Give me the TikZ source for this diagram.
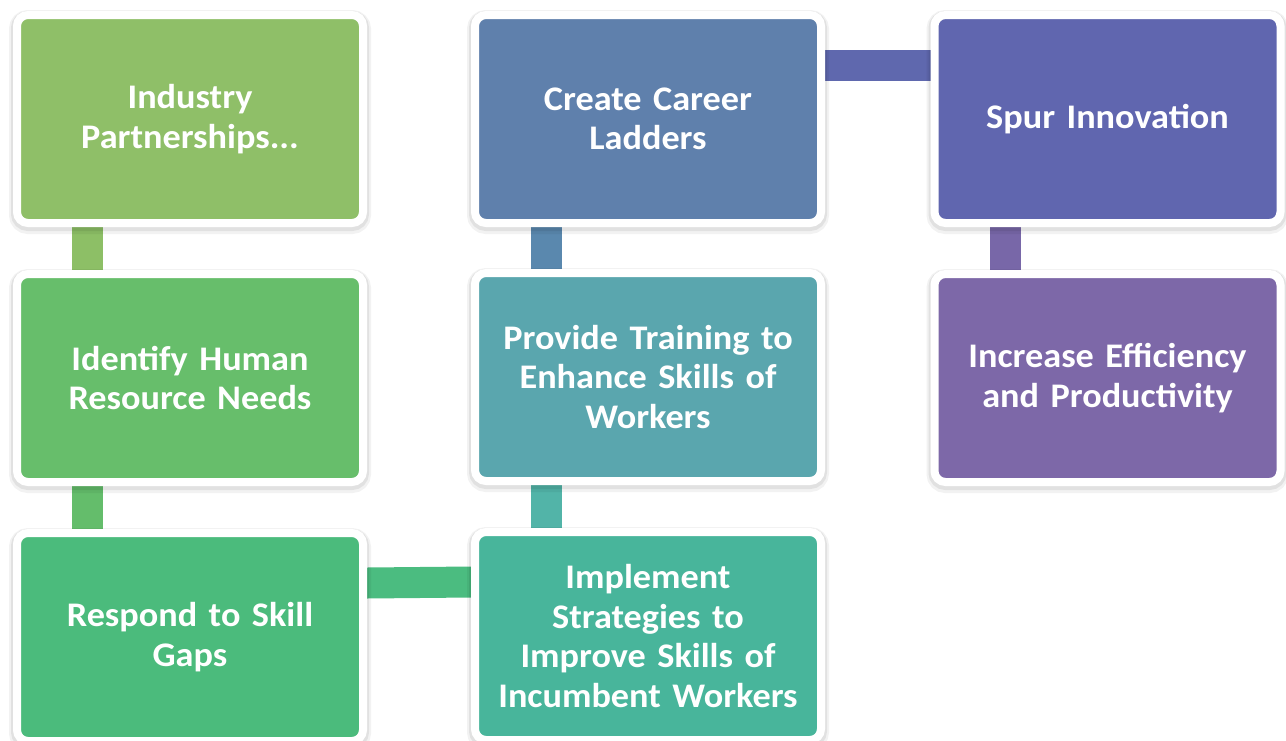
\documentclass[tikz,border=0pt]{standalone}
\usepackage{fontspec}
\setmainfont{Carlito}[FakeStretch=1.05]
\usetikzlibrary{backgrounds}
\newcommand\myboxfont{\fontsize{34.5}{39.5}\selectfont\bfseries\fontdimen2\font=7.5pt\relax}
\definecolor{cA}{HTML}{8FBF68}
\definecolor{cB}{HTML}{67BE6B}
\definecolor{cC}{HTML}{4BBB7C}
\definecolor{cD}{HTML}{48B59B}
\definecolor{cE}{HTML}{5AA6AE}
\definecolor{cF}{HTML}{5F80AC}
\definecolor{cG}{HTML}{6066AF}
\definecolor{cH}{HTML}{7D68A8}
\definecolor{bA}{HTML}{8DBF66}
\definecolor{bB}{HTML}{64BD6B}
\definecolor{bC}{HTML}{4BBC80}
\definecolor{bD}{HTML}{52B4A8}
\definecolor{bE}{HTML}{5A88AE}
\definecolor{bF}{HTML}{5F68AE}
\definecolor{bG}{HTML}{7867A8}
\tikzset{
  box/.style={rectangle, rounded corners=11pt, draw=white, line width=8pt,
    minimum width=346pt, minimum height=208pt, text width=330pt, align=center,
    text=white, font=\myboxfont,
    preaction={draw=black, draw opacity=0.05, line width=16pt, transform canvas={yshift=-3pt}},
    preaction={draw=black, draw opacity=0.07, line width=12pt, transform canvas={yshift=-2pt}}},
  bar/.style={line width=31pt}
}
\begin{document}
\begin{tikzpicture}[x=1pt,y=-1pt]
\useasboundingbox (0,0) rectangle (1286,740);
\node[box, fill=cA] (ind) at (190,119) {Industry\\Partnerships...};
\node[box, fill=cB] (idh) at (190,378) {Identify Human\\Resource Needs};
\node[box, fill=cC] (res) at (190,637) {Respond to Skill\\Gaps};
\node[box, fill=cD] (imp) at (648,636) {Implement\\Strategies to\\Improve Skills of\\Incumbent Workers};
\node[box, fill=cE] (pro) at (648,377) {Provide Training to\\Enhance Skills of\\Workers};
\node[box, fill=cF] (car) at (648,119) {Create Career\\Ladders};
\node[box, fill=cG] (spu) at (1107.5,119) {Spur Innovation};
\node[box, fill=cH] (inc) at (1107.5,378) {Increase Efficiency\\and Productivity};
\begin{pgfonlayer}{background}
\draw[bar, bA] ([xshift=-103pt]ind.south) -- ([xshift=-103pt]idh.north);
\draw[bar, bB] ([xshift=-103pt]idh.south) -- ([xshift=-103pt]res.north);
\draw[bar, bC] ([yshift=54pt]res.east) -- ([yshift=54pt]imp.west);
\draw[bar, bD] ([xshift=-102pt]imp.north) -- ([xshift=-102pt]pro.south);
\draw[bar, bE] ([xshift=-102pt]pro.north) -- ([xshift=-102pt]car.south);
\draw[bar, bF] ([yshift=54pt]car.east) -- ([yshift=54pt]spu.west);
\draw[bar, bG] ([xshift=-102pt]spu.south) -- ([xshift=-102pt]inc.north);
\end{pgfonlayer}
\end{tikzpicture}
\end{document}
